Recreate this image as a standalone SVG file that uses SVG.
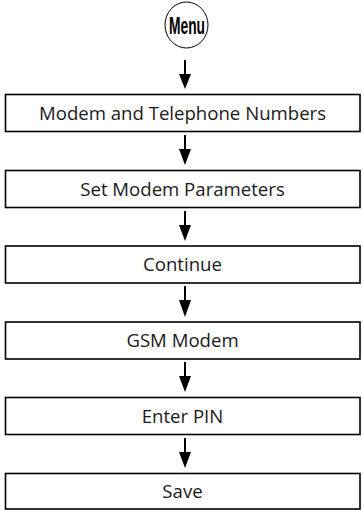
<svg xmlns="http://www.w3.org/2000/svg" width="363" height="510" viewBox="0 0 363 510">
<defs>
<style>
.box{fill:#fff;stroke:#000;stroke-width:1.6}
.lbl{font-family:"Open Sans","DejaVu Sans",sans-serif;font-size:18.6px;fill:#1a1a1a;text-anchor:middle}
.shaft{stroke:#000;stroke-width:2;fill:none}
.head{fill:#000}
</style>
</defs>
<rect width="363" height="510" fill="#fff"/>
<g id="menu">
<ellipse cx="186.5" cy="25" rx="21.5" ry="23" fill="#fff" stroke="#000" stroke-width="1"/>
<text x="187" y="33.5" font-family="Liberation Sans, Arial, sans-serif" font-weight="bold" font-size="23" text-anchor="middle" textLength="36" lengthAdjust="spacingAndGlyphs">Menu</text>
</g>
<g id="connectors">
<line class="shaft" x1="185" y1="60" x2="185" y2="76"/><polygon class="head" points="179,74 191,74 185,89"/>
<line class="shaft" x1="185" y1="135" x2="185" y2="151"/><polygon class="head" points="179,149 191,149 185,165"/>
<line class="shaft" x1="185" y1="211" x2="185" y2="227"/><polygon class="head" points="179,225 191,225 185,241"/>
<line class="shaft" x1="185" y1="286" x2="185" y2="302"/><polygon class="head" points="179,300 191,300 185,317"/>
<line class="shaft" x1="185" y1="362" x2="185" y2="378"/><polygon class="head" points="179,376 191,376 185,392"/>
<line class="shaft" x1="185" y1="438" x2="185" y2="454"/><polygon class="head" points="179,452 191,452 185,468"/>
</g>
<g id="n1"><rect class="box" x="5.5" y="94.5" width="354.5" height="37"/><text class="lbl" x="182.5" y="119.5">Modem and Telephone Numbers</text></g>
<g id="n2"><rect class="box" x="5.5" y="170.5" width="354.5" height="37"/><text class="lbl" x="182.5" y="195.5">Set Modem Parameters</text></g>
<g id="n3"><rect class="box" x="5.5" y="246" width="354.5" height="37"/><text class="lbl" x="182.5" y="271">Continue</text></g>
<g id="n4"><rect class="box" x="5.5" y="322" width="354.5" height="37"/><text class="lbl" x="182.5" y="347">GSM Modem</text></g>
<g id="n5"><rect class="box" x="5.5" y="397.5" width="354.5" height="37"/><text class="lbl" x="182.5" y="422.5">Enter PIN</text></g>
<g id="n6"><rect class="box" x="5.5" y="473.5" width="354.5" height="35.5"/><text class="lbl" x="182.5" y="498">Save</text></g>
</svg>
